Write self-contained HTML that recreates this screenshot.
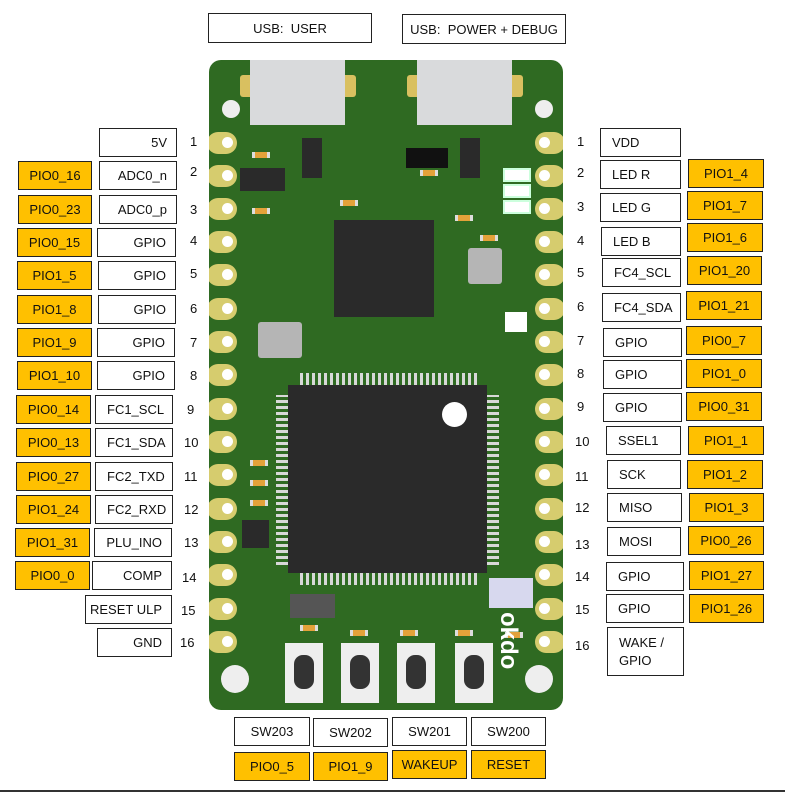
<!DOCTYPE html>
<html><head><meta charset="utf-8"><style>
body{margin:0;width:785px;height:792px;background:#fff;position:relative;overflow:hidden;font-family:"Liberation Sans",sans-serif;font-size:13px;color:#111}
.b{position:absolute;box-sizing:border-box;border:1px solid #222;background:#fff;display:flex;align-items:center;height:29px}
.o{background:#ffc000}
.r{justify-content:flex-end;padding-right:9px}
.l{padding-left:11px}
.c{justify-content:center}
.n{position:absolute;font-size:13px}
.pad{position:absolute;width:30px;height:22px;background:#d6cc6e;border-radius:11px}
.pad i{position:absolute;width:11px;height:11px;border-radius:50%;background:#fff;top:5px}
.g{position:absolute}
.s{position:absolute;width:12px;height:6px;background:#e3a23a;border-left:3px solid #ddd;border-right:3px solid #ddd}
.h{background:repeating-linear-gradient(90deg,#d8d8d8 0 3px,transparent 3px 6px)}
.v{background:repeating-linear-gradient(0deg,#d8d8d8 0 3px,transparent 3px 6px)}
</style></head><body>
<div class="b c" style="left:208px;top:13px;width:164px;height:30px">USB:&nbsp; USER</div>
<div class="b c" style="left:402px;top:14px;width:164px;height:30px">USB:&nbsp; POWER + DEBUG</div>

<!-- board -->
<div class="g" style="left:209px;top:60px;width:354px;height:650px;background:#2f6a22;border-radius:12px"></div>
<div class="g" style="left:240px;top:75px;width:14px;height:22px;background:#d9c060;border-radius:3px"></div>
<div class="g" style="left:342px;top:75px;width:14px;height:22px;background:#d9c060;border-radius:3px"></div>
<div class="g" style="left:407px;top:75px;width:14px;height:22px;background:#d9c060;border-radius:3px"></div>
<div class="g" style="left:509px;top:75px;width:14px;height:22px;background:#d9c060;border-radius:3px"></div>
<div class="g" style="left:250px;top:60px;width:95px;height:65px;background:#d9dadc"></div>
<div class="g" style="left:417px;top:60px;width:95px;height:65px;background:#d9dadc"></div>
<div class="g" style="left:300px;top:375px;width:180px;height:10px" class="h"></div>
<div class="g h" style="left:300px;top:373px;width:180px;height:12px"></div>
<div class="g h" style="left:300px;top:573px;width:180px;height:12px"></div>
<div class="g v" style="left:276px;top:395px;width:12px;height:170px"></div>
<div class="g v" style="left:487px;top:395px;width:12px;height:170px"></div>
<div class="g" style="left:288px;top:385px;width:199px;height:188px;background:#2a2a2a"></div>
<div class="g" style="left:442px;top:402px;width:25px;height:25px;background:#fff;border-radius:50%"></div>
<div class="g" style="left:334px;top:220px;width:100px;height:97px;background:#2a2a2a"></div>
<div class="g" style="left:468px;top:248px;width:34px;height:36px;background:#b5b5b5;border-radius:3px"></div>
<div class="g" style="left:258px;top:322px;width:44px;height:36px;background:#b5b5b5;border-radius:3px"></div>
<div class="g" style="left:240px;top:168px;width:45px;height:23px;background:#2a2a2a"></div>
<div class="g" style="left:302px;top:138px;width:20px;height:40px;background:#2a2a2a"></div>
<div class="g" style="left:460px;top:138px;width:20px;height:40px;background:#2a2a2a"></div>
<div class="g" style="left:406px;top:148px;width:42px;height:20px;background:#111"></div>
<div class="g" style="left:503px;top:168px;width:24px;height:10px;background:#fff;border:2px solid #cfd"></div>
<div class="g" style="left:503px;top:184px;width:24px;height:10px;background:#fff;border:2px solid #cfd"></div>
<div class="g" style="left:503px;top:200px;width:24px;height:10px;background:#fff;border:2px solid #cfd"></div>
<div class="g" style="left:505px;top:312px;width:22px;height:20px;background:#fff"></div>
<div class="s" style="left:252px;top:152px"></div>
<div class="s" style="left:252px;top:208px"></div>
<div class="s" style="left:340px;top:200px"></div>
<div class="s" style="left:420px;top:170px"></div>
<div class="s" style="left:455px;top:215px"></div>
<div class="s" style="left:480px;top:235px"></div>
<div class="s" style="left:250px;top:460px"></div>
<div class="s" style="left:250px;top:480px"></div>
<div class="s" style="left:250px;top:500px"></div>
<div class="s" style="left:505px;top:632px"></div>
<div class="s" style="left:300px;top:625px"></div>
<div class="s" style="left:350px;top:630px"></div>
<div class="s" style="left:400px;top:630px"></div>
<div class="s" style="left:455px;top:630px"></div>
<div class="g" style="left:242px;top:520px;width:27px;height:28px;background:#2a2a2a"></div>
<div class="g" style="left:489px;top:578px;width:44px;height:30px;background:#d7d8ee"></div>
<div class="g" style="left:290px;top:594px;width:45px;height:24px;background:#555"></div>
<div class="g" style="left:285px;top:643px;width:38px;height:60px;background:#eee"></div>
<div class="g" style="left:341px;top:643px;width:38px;height:60px;background:#eee"></div>
<div class="g" style="left:397px;top:643px;width:38px;height:60px;background:#eee"></div>
<div class="g" style="left:455px;top:643px;width:38px;height:60px;background:#eee"></div>
<div class="g" style="left:294px;top:655px;width:20px;height:34px;background:#333;border-radius:9px"></div>
<div class="g" style="left:350px;top:655px;width:20px;height:34px;background:#333;border-radius:9px"></div>
<div class="g" style="left:406px;top:655px;width:20px;height:34px;background:#333;border-radius:9px"></div>
<div class="g" style="left:464px;top:655px;width:20px;height:34px;background:#333;border-radius:9px"></div>
<div class="g" style="left:221px;top:665px;width:28px;height:28px;background:#eee;border-radius:50%"></div>
<div class="g" style="left:525px;top:665px;width:28px;height:28px;background:#eee;border-radius:50%"></div>
<div class="g" style="left:222px;top:100px;width:18px;height:18px;background:#eee;border-radius:50%"></div>
<div class="g" style="left:535px;top:100px;width:18px;height:18px;background:#eee;border-radius:50%"></div>
<div class="g" style="left:500px;top:612px;width:22px;height:80px;color:#fff;font-weight:bold;font-size:24px;writing-mode:vertical-rl">okdo</div>

<!-- pads -->
<div class="pad" style="left:207px;top:132px"><i style="left:15px"></i></div>
<div class="pad" style="left:207px;top:165px"><i style="left:15px"></i></div>
<div class="pad" style="left:207px;top:198px"><i style="left:15px"></i></div>
<div class="pad" style="left:207px;top:231px"><i style="left:15px"></i></div>
<div class="pad" style="left:207px;top:264px"><i style="left:15px"></i></div>
<div class="pad" style="left:207px;top:298px"><i style="left:15px"></i></div>
<div class="pad" style="left:207px;top:331px"><i style="left:15px"></i></div>
<div class="pad" style="left:207px;top:364px"><i style="left:15px"></i></div>
<div class="pad" style="left:207px;top:398px"><i style="left:15px"></i></div>
<div class="pad" style="left:207px;top:431px"><i style="left:15px"></i></div>
<div class="pad" style="left:207px;top:464px"><i style="left:15px"></i></div>
<div class="pad" style="left:207px;top:498px"><i style="left:15px"></i></div>
<div class="pad" style="left:207px;top:531px"><i style="left:15px"></i></div>
<div class="pad" style="left:207px;top:564px"><i style="left:15px"></i></div>
<div class="pad" style="left:207px;top:598px"><i style="left:15px"></i></div>
<div class="pad" style="left:207px;top:631px"><i style="left:15px"></i></div>
<div class="pad" style="left:535px;top:132px"><i style="left:4px"></i></div>
<div class="pad" style="left:535px;top:165px"><i style="left:4px"></i></div>
<div class="pad" style="left:535px;top:198px"><i style="left:4px"></i></div>
<div class="pad" style="left:535px;top:231px"><i style="left:4px"></i></div>
<div class="pad" style="left:535px;top:264px"><i style="left:4px"></i></div>
<div class="pad" style="left:535px;top:298px"><i style="left:4px"></i></div>
<div class="pad" style="left:535px;top:331px"><i style="left:4px"></i></div>
<div class="pad" style="left:535px;top:364px"><i style="left:4px"></i></div>
<div class="pad" style="left:535px;top:398px"><i style="left:4px"></i></div>
<div class="pad" style="left:535px;top:431px"><i style="left:4px"></i></div>
<div class="pad" style="left:535px;top:464px"><i style="left:4px"></i></div>
<div class="pad" style="left:535px;top:498px"><i style="left:4px"></i></div>
<div class="pad" style="left:535px;top:531px"><i style="left:4px"></i></div>
<div class="pad" style="left:535px;top:564px"><i style="left:4px"></i></div>
<div class="pad" style="left:535px;top:598px"><i style="left:4px"></i></div>
<div class="pad" style="left:535px;top:631px"><i style="left:4px"></i></div>
<div class="g" style="left:200px;top:120px;width:9px;height:545px;background:#fff"></div>
<div class="g" style="left:563px;top:120px;width:9px;height:545px;background:#fff"></div>

<!-- left -->
<div class="b r" style="left:99px;top:128px;width:78px">5V</div><div class="n" style="left:190px;top:134px">1</div>
<div class="b o c" style="left:18px;top:161px;width:74px">PIO0_16</div><div class="b r" style="left:99px;top:161px;width:78px">ADC0_n</div><div class="n" style="left:190px;top:164px">2</div>
<div class="b o c" style="left:18px;top:195px;width:74px">PIO0_23</div><div class="b r" style="left:99px;top:195px;width:78px">ADC0_p</div><div class="n" style="left:190px;top:202px">3</div>
<div class="b o c" style="left:17px;top:228px;width:75px">PIO0_15</div><div class="b r" style="left:97px;top:228px;width:79px">GPIO</div><div class="n" style="left:190px;top:233px">4</div>
<div class="b o c" style="left:17px;top:261px;width:75px">PIO1_5</div><div class="b r" style="left:98px;top:261px;width:78px">GPIO</div><div class="n" style="left:190px;top:266px">5</div>
<div class="b o c" style="left:17px;top:295px;width:75px">PIO1_8</div><div class="b r" style="left:98px;top:295px;width:78px">GPIO</div><div class="n" style="left:190px;top:301px">6</div>
<div class="b o c" style="left:17px;top:328px;width:75px">PIO1_9</div><div class="b r" style="left:97px;top:328px;width:78px">GPIO</div><div class="n" style="left:190px;top:335px">7</div>
<div class="b o c" style="left:17px;top:361px;width:75px">PIO1_10</div><div class="b r" style="left:97px;top:361px;width:78px">GPIO</div><div class="n" style="left:190px;top:368px">8</div>
<div class="b o c" style="left:16px;top:395px;width:75px">PIO0_14</div><div class="b l" style="left:95px;top:395px;width:78px">FC1_SCL</div><div class="n" style="left:187px;top:402px">9</div>
<div class="b o c" style="left:16px;top:428px;width:75px">PIO0_13</div><div class="b l" style="left:95px;top:428px;width:78px">FC1_SDA</div><div class="n" style="left:184px;top:435px">10</div>
<div class="b o c" style="left:16px;top:462px;width:75px">PIO0_27</div><div class="b l" style="left:95px;top:462px;width:78px">FC2_TXD</div><div class="n" style="left:184px;top:469px">11</div>
<div class="b o c" style="left:16px;top:495px;width:75px">PIO1_24</div><div class="b l" style="left:95px;top:495px;width:78px">FC2_RXD</div><div class="n" style="left:184px;top:502px">12</div>
<div class="b o c" style="left:15px;top:528px;width:75px">PIO1_31</div><div class="b r" style="left:94px;top:528px;width:78px">PLU_INO</div><div class="n" style="left:184px;top:535px">13</div>
<div class="b o c" style="left:15px;top:561px;width:75px">PIO0_0</div><div class="b r" style="left:92px;top:561px;width:80px">COMP</div><div class="n" style="left:182px;top:570px">14</div>
<div class="b r" style="left:85px;top:595px;width:87px">RESET ULP</div><div class="n" style="left:181px;top:603px">15</div>
<div class="b r" style="left:97px;top:628px;width:75px">GND</div><div class="n" style="left:180px;top:635px">16</div>

<!-- right -->
<div class="n" style="left:577px;top:134px">1</div><div class="b l" style="left:600px;top:128px;width:81px">VDD</div>
<div class="n" style="left:577px;top:165px">2</div><div class="b l" style="left:600px;top:160px;width:81px">LED R</div><div class="b o c" style="left:688px;top:159px;width:76px">PIO1_4</div>
<div class="n" style="left:577px;top:199px">3</div><div class="b l" style="left:600px;top:193px;width:81px">LED G</div><div class="b o c" style="left:687px;top:191px;width:76px">PIO1_7</div>
<div class="n" style="left:577px;top:233px">4</div><div class="b l" style="left:601px;top:227px;width:80px">LED B</div><div class="b o c" style="left:687px;top:223px;width:76px">PIO1_6</div>
<div class="n" style="left:577px;top:265px">5</div><div class="b l" style="left:602px;top:258px;width:79px">FC4_SCL</div><div class="b o c" style="left:687px;top:256px;width:75px">PIO1_20</div>
<div class="n" style="left:577px;top:299px">6</div><div class="b l" style="left:602px;top:293px;width:79px">FC4_SDA</div><div class="b o c" style="left:686px;top:291px;width:76px">PIO1_21</div>
<div class="n" style="left:577px;top:333px">7</div><div class="b l" style="left:603px;top:328px;width:79px">GPIO</div><div class="b o c" style="left:686px;top:326px;width:76px">PIO0_7</div>
<div class="n" style="left:577px;top:366px">8</div><div class="b l" style="left:603px;top:360px;width:79px">GPIO</div><div class="b o c" style="left:686px;top:359px;width:76px">PIO1_0</div>
<div class="n" style="left:577px;top:399px">9</div><div class="b l" style="left:603px;top:393px;width:79px">GPIO</div><div class="b o c" style="left:686px;top:392px;width:76px">PIO0_31</div>
<div class="n" style="left:575px;top:434px">10</div><div class="b l" style="left:606px;top:426px;width:75px">SSEL1</div><div class="b o c" style="left:688px;top:426px;width:76px">PIO1_1</div>
<div class="n" style="left:575px;top:469px">11</div><div class="b l" style="left:607px;top:460px;width:74px">SCK</div><div class="b o c" style="left:687px;top:460px;width:76px">PIO1_2</div>
<div class="n" style="left:575px;top:500px">12</div><div class="b l" style="left:607px;top:493px;width:75px">MISO</div><div class="b o c" style="left:689px;top:493px;width:75px">PIO1_3</div>
<div class="n" style="left:575px;top:537px">13</div><div class="b l" style="left:607px;top:527px;width:74px">MOSI</div><div class="b o c" style="left:688px;top:526px;width:76px">PIO0_26</div>
<div class="n" style="left:575px;top:569px">14</div><div class="b l" style="left:606px;top:562px;width:78px">GPIO</div><div class="b o c" style="left:689px;top:561px;width:75px">PIO1_27</div>
<div class="n" style="left:575px;top:602px">15</div><div class="b l" style="left:606px;top:594px;width:78px">GPIO</div><div class="b o c" style="left:689px;top:594px;width:75px">PIO1_26</div>
<div class="n" style="left:575px;top:638px">16</div><div class="b l" style="left:607px;top:627px;width:77px;height:49px;line-height:18px">WAKE /<br>GPIO</div>

<!-- bottom -->
<div class="b c" style="left:234px;top:717px;width:76px">SW203</div>
<div class="b c" style="left:313px;top:718px;width:75px">SW202</div>
<div class="b c" style="left:392px;top:717px;width:75px">SW201</div>
<div class="b c" style="left:471px;top:717px;width:75px">SW200</div>
<div class="b o c" style="left:234px;top:752px;width:76px">PIO0_5</div>
<div class="b o c" style="left:313px;top:752px;width:75px">PIO1_9</div>
<div class="b o c" style="left:392px;top:750px;width:75px">WAKEUP</div>
<div class="b o c" style="left:471px;top:750px;width:75px">RESET</div>
<div class="g" style="left:0;top:790px;width:785px;height:2px;background:#333"></div>
</body></html>
